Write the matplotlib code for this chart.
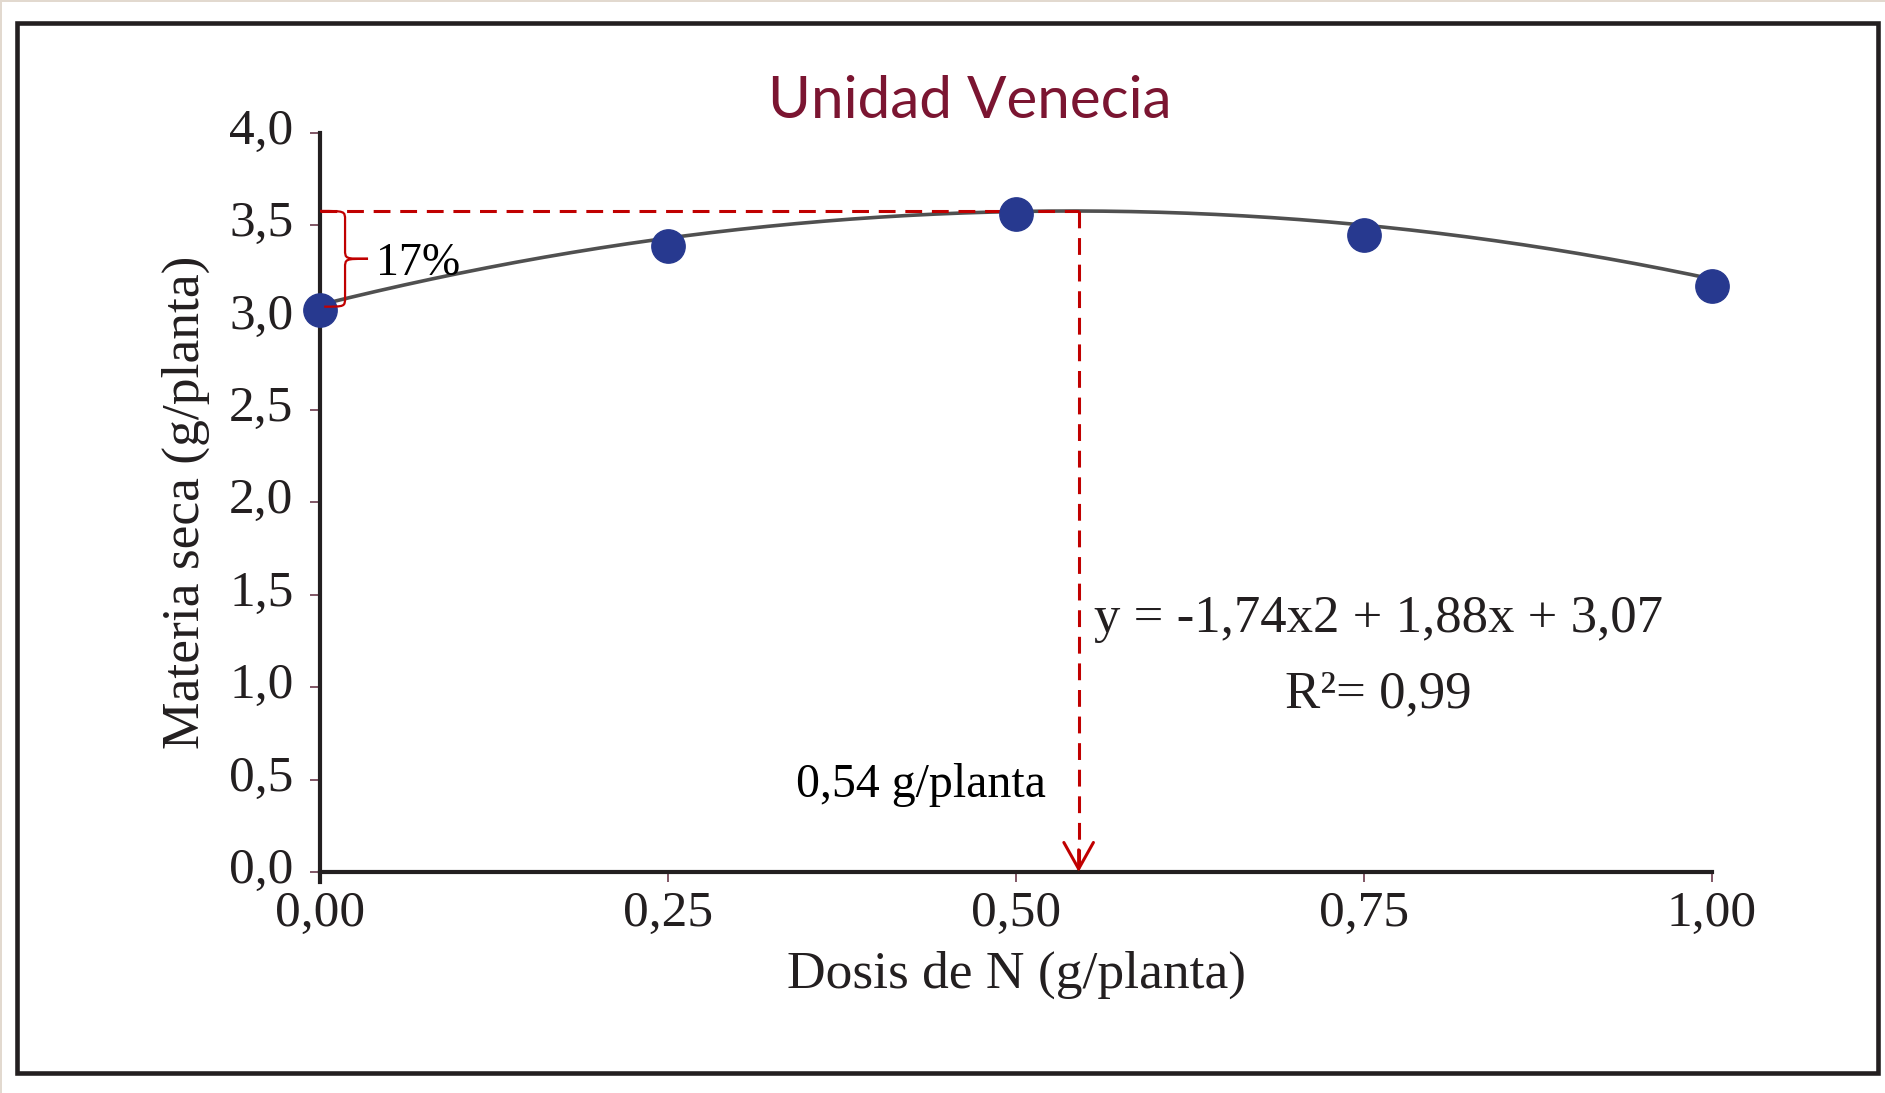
import numpy as np
import matplotlib
matplotlib.use("Agg")
from matplotlib import pyplot as plt
from matplotlib.patches import Rectangle, PathPatch
from matplotlib.path import Path
from matplotlib.transforms import ScaledTranslation

# data
dose = [0.00, 0.25, 0.50, 0.75, 1.00]
dry_matter = [3.04, 3.39, 3.56, 3.45, 3.17]
coef = [-1.74, 1.88, 3.07]          # fitted quadratic a, b, c
x_opt = 0.545
y_top = 3.578
y_base = 3.06
x_ticks = [0.00, 0.25, 0.50, 0.75, 1.00]
x_tick_labels = ["0,00", "0,25", "0,50", "0,75", "1,00"]
y_ticks = [0.0, 0.5, 1.0, 1.5, 2.0, 2.5, 3.0, 3.5, 4.0]
y_tick_labels = ["0,0", "0,5", "1,0", "1,5", "2,0", "2,5", "3,0", "3,5", "4,0"]

W, H = 1885, 1093
SERIF = "Liberation Serif"
INK = "#231f20"
RED = "#c00000"

fig = plt.figure(figsize=(W / 100, H / 100), dpi=100)
fig.patch.set_facecolor("white")

# outer frame and the thin beige strips of the screenshot
fig.add_artist(Rectangle((0, 1 - 2 / H), 1, 2 / H, transform=fig.transFigure,
                         facecolor="#e2d9cf", edgecolor="none"))
fig.add_artist(Rectangle((0, 0), 2 / W, 1, transform=fig.transFigure,
                         facecolor="#e2d9cf", edgecolor="none"))
fig.add_artist(Rectangle((17 / W, (H - 1073) / H), (1878 - 17) / W, (1073 - 23) / H,
                         transform=fig.transFigure, facecolor="none",
                         edgecolor=INK, linewidth=3.3))

x0, x1, y0, y1 = 320, 1712, 872, 133
ax = fig.add_axes([x0 / W, (H - y0) / H, (x1 - x0) / W, (y0 - y1) / H])
ax.set_xlim(0, 1)
ax.set_ylim(0, 4)
ax.set_facecolor("none")

for s in ["top", "right"]:
    ax.spines[s].set_visible(False)
for s in ["left", "bottom"]:
    ax.spines[s].set_linewidth(3)
    ax.spines[s].set_color(INK)
ax.spines["left"].set_bounds(-0.055, 4.0)

ax.set_xticks(x_ticks, x_tick_labels)
ax.set_yticks(y_ticks, y_tick_labels)
ax.tick_params(axis="both", direction="out", length=7, width=1.2, color="#6b3a4c",
               labelsize=37, labelcolor=INK)
ax.tick_params(axis="y", pad=12)
ax.tick_params(axis="x", pad=6)
lift = ScaledTranslation(0, 5 / 72, fig.dpi_scale_trans)
for lab in ax.get_yticklabels():
    lab.set_family(SERIF)
    lab.set_transform(lab.get_transform() + lift)
for lab in ax.get_xticklabels():
    lab.set_family(SERIF)

ax.set_xlabel("Dosis de N (g/planta)", fontsize=38.5, family=SERIF, color=INK, labelpad=10)
ax.set_ylabel("Materia seca (g/planta)", fontsize=38.5, family=SERIF, color=INK, labelpad=14)

# fitted curve
xs = np.linspace(0, 1, 200)
ax.plot(xs, np.polyval(coef, xs), color="#505050", linewidth=2.6, zorder=2, clip_on=False)

# optimum guide lines
ax.plot([0, x_opt], [y_top, y_top], color=RED, linewidth=2.2, dashes=(5.5, 3.2), zorder=4,
        clip_on=False)
ax.plot([x_opt, x_opt], [y_top, 0.02], color=RED, linewidth=2.2, dashes=(5.5, 3.2), zorder=4)
ax.annotate("", xy=(x_opt, 0.0), xytext=(x_opt, 0.12),
            arrowprops=dict(arrowstyle="->,head_length=0.5,head_width=0.28", color=RED,
                            linewidth=2.2, shrinkA=0, shrinkB=0, mutation_scale=38))

# points
ax.plot(dose, dry_matter, "o", color="#27398f", markersize=24, zorder=5, clip_on=False)

# curly brace for the 17 % gain
bx, tx = 0.018, 0.0345
ym = (y_top + y_base) / 2
r = 0.05
verts = [(0.0, y_top),
         (bx, y_top), (bx, y_top), (bx, y_top - r),
         (bx, ym + r),
         (bx, ym), (bx, ym), (tx, ym),
         (bx, ym), (bx, ym), (bx, ym - r),
         (bx, y_base + r),
         (bx, y_base), (bx, y_base), (0.003, y_base)]
codes = [Path.MOVETO,
         Path.CURVE4, Path.CURVE4, Path.CURVE4,
         Path.LINETO,
         Path.CURVE4, Path.CURVE4, Path.CURVE4,
         Path.CURVE4, Path.CURVE4, Path.CURVE4,
         Path.LINETO,
         Path.CURVE4, Path.CURVE4, Path.CURVE4]
ax.add_patch(PathPatch(Path(verts, codes), facecolor="none", edgecolor=RED,
                       linewidth=1.6, zorder=6, clip_on=False))

ax.text(0.04, 3.29, "17%", fontsize=33, family=SERIF, color="black", va="center", ha="left")
ax.text(0.556, 1.37, "y = -1,74x2 + 1,88x + 3,07", fontsize=38, family=SERIF,
        color=INK, va="center", ha="left")
ax.text(0.76, 0.96, "R²= 0,99", fontsize=38, family=SERIF, color=INK,
        va="center", ha="center")
ax.text(0.432, 0.47, "0,54 g/planta", fontsize=34.5, family=SERIF, color="black",
        va="center", ha="center")

fig.text(970 / W, 1 - 102 / H, "Unidad Venecia", fontsize=42, family="Lato",
         color="#7b1531", ha="center", va="center")

fig.savefig("out.png", dpi=100)
